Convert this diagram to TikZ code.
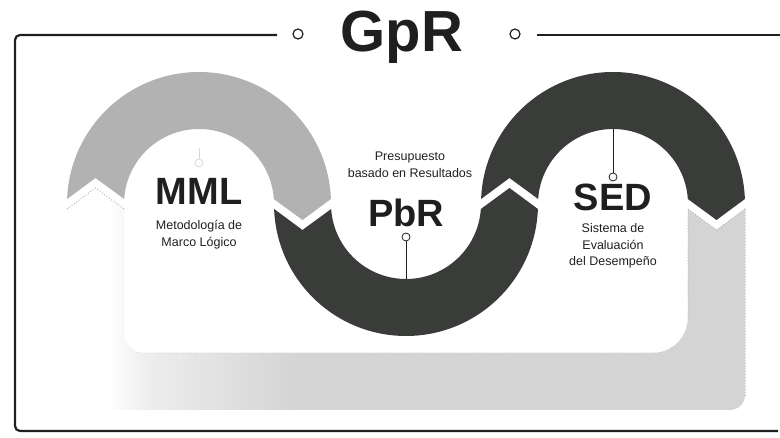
\documentclass[tikz,border=0pt]{standalone}
\usepackage{fontspec}
\setmainfont{Liberation Sans}
\definecolor{ringlight}{RGB}{178,178,178}
\definecolor{ringdark}{RGB}{58,60,58}
\definecolor{taillight}{RGB}{212,212,212}
\definecolor{inkc}{RGB}{30,32,30}
\pgfdeclarehorizontalshading{tailshade}{100bp}{color(0bp)=(white); color(28bp)=(white); color(31bp)=(white!93!black); color(42bp)=(taillight); color(100bp)=(taillight)}
\begin{document}
\begin{tikzpicture}[x=1pt,y=1pt,
  frameline/.style={draw=inkc, line width=2.2pt},
  titc/.style={circle, draw=inkc, line width=1.2pt, inner sep=0pt, minimum size=10pt},
  dotc/.style={circle, draw=inkc, line width=0.8pt, fill=white, inner sep=0pt, minimum size=8pt},
  pin/.style={draw=inkc, line width=0.8pt},
  bigtxt/.style={font=\bfseries\fontsize{38}{40}\selectfont, text=inkc, anchor=base, inner sep=0pt},
  smalltxt/.style={font=\fontsize{12.5}{14}\selectfont, text=inkc, anchor=base, inner sep=0pt},
  tailedge/.style={draw=gray!65, dotted, line width=0.9pt}]
\useasboundingbox (0,0) rectangle (780,438);
\coordinate (C1) at (199,234);
\coordinate (C2) at (406,234);
\coordinate (C3) at (613,234);

% tail loop (light, fading to the left)
\path[shading=tailshade]
  (745,229) -- (745,43) arc[start angle=0, end angle=-90, radius=15]
  -- (82,28) arc[start angle=270, end angle=180, radius=15]
  -- (67,229) -- (95.5,250) -- (124,229)
  -- (124,105) arc[start angle=180, end angle=270, radius=20]
  -- (653,85) arc[start angle=270, end angle=360, radius=35]
  -- (688,229) -- (716.5,208) -- cycle;
\draw[tailedge] (67,229) -- (95.5,250) -- (124,229);
\draw[tailedge] (745,229) -- (716.5,208) -- (688,229) -- (688,120);
\draw[tailedge, draw=gray!45] (688,120) arc[start angle=0, end angle=-90, radius=35] -- (135,85);
\draw[tailedge, draw=gray!45] (745,229) -- (745,43);

% MML arc (light gray)
\fill[ringlight] ([shift={(177.83:132)}]C1) arc[start angle=177.83, end angle=2.17, radius=132]
  -- (302.5,218) -- ([shift={(3.82:75)}]C1) arc[start angle=3.82, end angle=176.18, radius=75]
  -- (95.5,260) -- cycle;

% PbR arc (dark)
\fill[ringdark] ([shift={(182.17:132)}]C2) arc[start angle=182.17, end angle=357.83, radius=132]
  -- (509.5,250) -- ([shift={(356.18:75)}]C2) arc[start angle=356.18, end angle=183.82, radius=75]
  -- (302.5,208) -- cycle;

% SED arc (dark)
\fill[ringdark] ([shift={(177.83:132)}]C3) arc[start angle=177.83, end angle=2.17, radius=132]
  -- (716.5,218) -- ([shift={(3.82:75)}]C3) arc[start angle=3.82, end angle=176.18, radius=75]
  -- (509.5,260) -- cycle;

% frame
\coordinate (fl) at (277,403);
\coordinate (fbr) at (778,7);
\coordinate (frs) at (537,403);
\coordinate (fre) at (780,403);
\draw[frameline, rounded corners=5] (fl) -- (15,403) -- (15,7) -- (fbr);
\draw[frameline] (frs) -- (fre);
\node[titc] (tl) at (298,404) {};
\node[titc] (tr) at (515,404) {};
\node[font=\bfseries\fontsize{58}{60}\selectfont, text=inkc, anchor=base, inner sep=0pt] (gpr) at (402,386) {GpR};

% MML
\node[bigtxt] (mml) at (199,233) {MML};
\node[smalltxt] (mml1) at (199,208) {Metodología de};
\node[smalltxt] (mml2) at (199,191) {Marco Lógico};
\node[dotc, draw=gray!30] (mc) at (199,275) {};
\coordinate (mt) at (199,290);
\draw[pin, draw=gray!30] (mc) -- (mt);

% PbR
\node[smalltxt] (pb1) at (410,277) {Presupuesto};
\node[smalltxt] (pb2) at (410,260) {basado en Resultados};
\node[bigtxt] (pbr) at (406,211) {PbR};
\node[dotc] (pc) at (406,201) {};
\coordinate (pt) at (406,159);
\draw[pin] (pc) -- (pt);

% SED
\node[dotc] (sc) at (613,261) {};
\coordinate (st) at (613,309);
\draw[pin] (sc) -- (st);
\node[bigtxt] (sed) at (613,227) {SED};
\node[smalltxt] (sd1) at (613,205) {Sistema de};
\node[smalltxt] (sd2) at (613,188) {Evaluación};
\node[smalltxt] (sd3) at (613,172) {del Desempeño};
\end{tikzpicture}
\end{document}
